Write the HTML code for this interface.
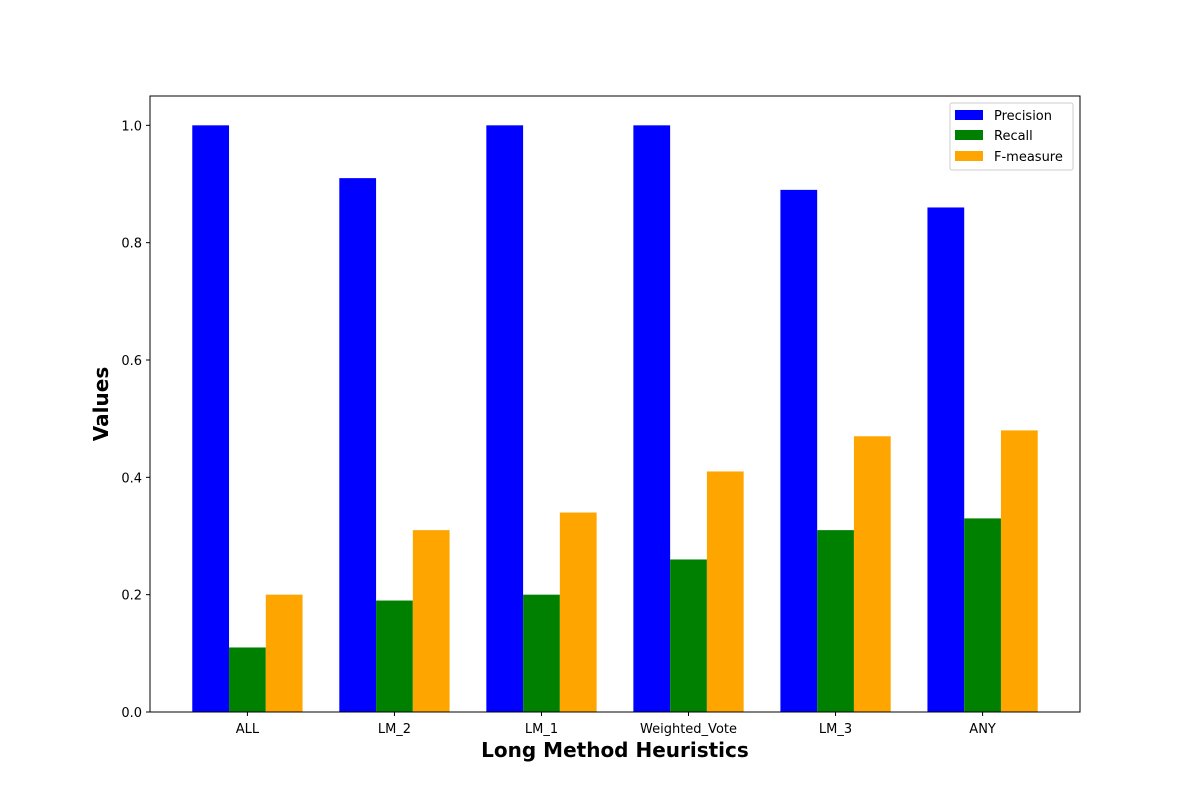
<!DOCTYPE html>
<html><head><meta charset="utf-8"><style>
html,body{margin:0;padding:0;background:#fff;}
svg{display:block;font-family:"DejaVu Sans","Liberation Sans",sans-serif;}
</style></head><body>
<svg id="chart" width="1200" height="800" viewBox="0 0 1200 800">
<rect x="0" y="0" width="1200" height="800" fill="#fff"/>
<g id="bars"></g>
<g id="xticks"></g>
<g id="yticks"></g>
<rect x="150" y="96" width="930" height="616" fill="none" stroke="#000" stroke-width="1"/>
<text x="615" y="757" text-anchor="middle" font-size="20" font-weight="bold">Long Method Heuristics</text>
<text transform="translate(108,404) rotate(-90)" text-anchor="middle" font-size="20" font-weight="bold">Values</text>
<g>
<rect x="950" y="103" width="123" height="67" fill="#fff" stroke="#ccc" rx="2"/>
<g><rect x="955" y="110" width="28" height="10" fill="#0000ff"/><text x="994" y="120" font-size="13">Precision</text></g>
<g><rect x="955" y="130" width="28" height="10" fill="#008000"/><text x="994" y="140" font-size="13">Recall</text></g>
<g><rect x="955" y="151" width="28" height="10" fill="#ffa500"/><text x="994" y="161" font-size="13">F-measure</text></g>
</g>
</svg>
<script>
const categories = ["ALL","LM_2","LM_1","Weighted_Vote","LM_3","ANY"];
const precision = [1.0,0.91,1.0,1.0,0.89,0.86];
const recall = [0.11,0.19,0.2,0.26,0.31,0.33];
const fmeasure = [0.2,0.31,0.34,0.41,0.47,0.48];
const yTicks = [0,0.2,0.4,0.6,0.8,1.0];
const yTickLabels = ["0.0","0.2","0.4","0.6","0.8","1.0"];

const NS="http://www.w3.org/2000/svg";
const L=150,R=1080,T=96,B=712;
const xmin=-0.6625,xmax=5.6625,ymin=0,ymax=1.05;
const xs=v=>L+(v-xmin)/(xmax-xmin)*(R-L);
const ys=v=>B-(v-ymin)/(ymax-ymin)*(B-T);
const bw=0.25;
const series=[["precision",precision,"#0000ff",-bw],["recall",recall,"#008000",0],["f-measure",fmeasure,"#ffa500",bw]];
const gb=document.getElementById("bars");
series.forEach(([nm,vals,col,off])=>{
  vals.forEach((v,i)=>{
    const r=document.createElementNS(NS,"rect");
    const x0=xs(i+off-bw/2),x1=xs(i+off+bw/2);
    r.setAttribute("x",x0);r.setAttribute("width",x1-x0);
    r.setAttribute("y",ys(v));r.setAttribute("height",ys(0)-ys(v));
    r.setAttribute("fill",col);
    
    
    gb.appendChild(r);
  });
});
const gx=document.getElementById("xticks");
categories.forEach((c,i)=>{
  const x=xs(i);
  const l=document.createElementNS(NS,"line");
  l.setAttribute("x1",x);l.setAttribute("x2",x);l.setAttribute("y1",B);l.setAttribute("y2",B+4);l.setAttribute("stroke","#000");
  
  
  gx.appendChild(l);
  const t=document.createElementNS(NS,"text");
  t.setAttribute("x",x);t.setAttribute("y",B+21);t.setAttribute("text-anchor","middle");t.setAttribute("font-size","13");
  t.textContent=c;
  
  
  gx.appendChild(t);
});
const gy=document.getElementById("yticks");
yTicks.forEach((v,i)=>{
  const y=ys(v);
  const l=document.createElementNS(NS,"line");
  l.setAttribute("x1",L-4);l.setAttribute("x2",L);l.setAttribute("y1",y);l.setAttribute("y2",y);l.setAttribute("stroke","#000");
  
  
  gy.appendChild(l);
  const t=document.createElementNS(NS,"text");
  t.setAttribute("x",L-8);t.setAttribute("y",y+5);t.setAttribute("text-anchor","end");t.setAttribute("font-size","13");
  t.textContent=yTickLabels[i];
  
  
  gy.appendChild(t);
});
</script>
</body></html>
